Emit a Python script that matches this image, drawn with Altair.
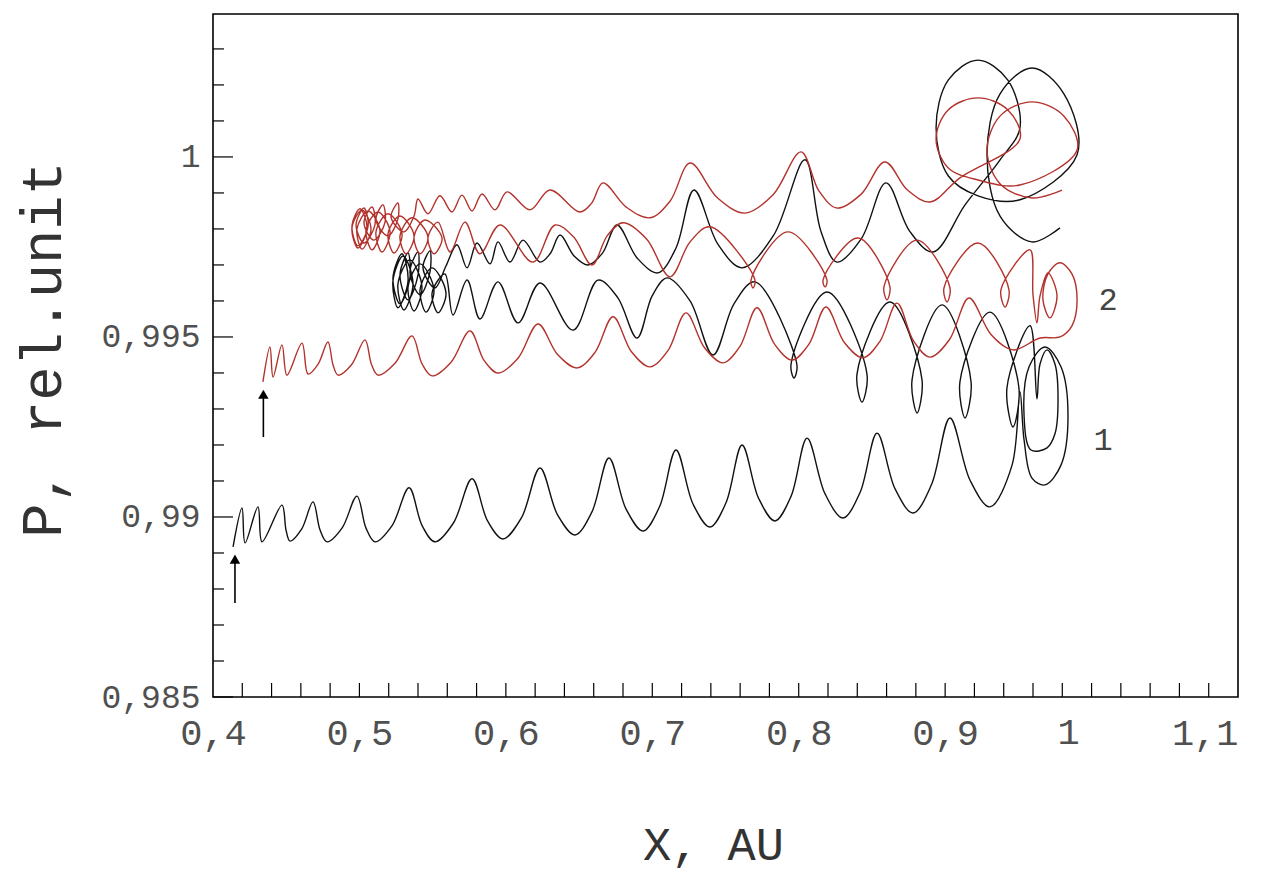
import altair as alt
import pandas as pd

# ---------------- curve 1 (black) ----------------
# outgoing lower band (from the arrow to the right)
b1_x = [0.4137, 0.4198, 0.4219, 0.4307, 0.4335, 0.4471, 0.4499, 0.4526, 0.4605, 0.4683,
        0.4731, 0.4779, 0.4881, 0.4983, 0.5045, 0.5106, 0.5223, 0.5339, 0.5428, 0.5516,
        0.5643, 0.5769, 0.5875, 0.5980, 0.6107, 0.6233, 0.6353, 0.6472, 0.6588, 0.6704,
        0.6821, 0.6937, 0.7050, 0.7162, 0.7278, 0.7394, 0.7504, 0.7613, 0.7726, 0.7838,
        0.7948, 0.8057, 0.8180, 0.8302, 0.8419, 0.8535, 0.8658, 0.8781, 0.8907, 0.9033,
        0.9170, 0.9306]
b1_p = [0.98917, 0.99025, 0.98928, 0.99028, 0.98931, 0.99033, 0.98963, 0.98933, 0.98966, 0.99042,
        0.98964, 0.98931, 0.98969, 0.99058, 0.98969, 0.98931, 0.98976, 0.99081, 0.98976, 0.98931,
        0.98984, 0.99106, 0.98989, 0.98939, 0.98998, 0.99136, 0.99006, 0.98950, 0.99014, 0.99164,
        0.99022, 0.98961, 0.99029, 0.99186, 0.99036, 0.98972, 0.99040, 0.99200, 0.99052, 0.98989,
        0.99058, 0.99219, 0.99064, 0.98997, 0.99068, 0.99233, 0.99078, 0.99011, 0.99090, 0.99275,
        0.99102, 0.99028]
# right-hand turning loops
bt_x = [0.9457, 0.9511, 0.9539, 0.9593, 0.9682, 0.9791, 0.9839, 0.9791, 0.9682, 0.9573,
        0.9539, 0.9586, 0.9696, 0.9750, 0.9771, 0.9750, 0.9696, 0.9648, 0.9627]
bt_p = [0.99144, 0.99347, 0.99214, 0.99108, 0.99089, 0.99144, 0.99281, 0.99417, 0.99472, 0.99417,
        0.99281, 0.99186, 0.99192, 0.99231, 0.99328, 0.99425, 0.99464, 0.99425, 0.99328]
# middle band travelling back to the left
b2_x = [0.9580, 0.9422, 0.9463, 0.9504, 0.9306, 0.9101, 0.9136, 0.9177, 0.8979, 0.8774,
        0.8808, 0.8842, 0.8623, 0.8398, 0.8432, 0.8466, 0.8193, 0.7947, 0.7968, 0.7988,
        0.7701, 0.7558, 0.7415, 0.7258, 0.7101, 0.6999, 0.6896, 0.6763, 0.6629, 0.6459,
        0.6233, 0.6083, 0.5946, 0.5823, 0.5735, 0.5639]
b2_p = [0.99531, 0.99358, 0.99250, 0.99358, 0.99569, 0.99375, 0.99275, 0.99375, 0.99589, 0.99381,
        0.99289, 0.99381, 0.99597, 0.99397, 0.99319, 0.99397, 0.99625, 0.99422, 0.99386, 0.99422,
        0.99653, 0.99592, 0.99450, 0.99600, 0.99664, 0.99614, 0.99497, 0.99610, 0.99658, 0.99519,
        0.99650, 0.99539, 0.99653, 0.99550, 0.99658, 0.99561]
# dense spiral at the left turning point
bs_x = [0.5584, 0.5496, 0.5537, 0.5591, 0.5496, 0.5414, 0.5455, 0.5509, 0.5414, 0.5332,
        0.5373, 0.5427, 0.5345, 0.5263, 0.5304, 0.5366, 0.5298, 0.5229, 0.5263, 0.5332,
        0.5291, 0.5229, 0.5277, 0.5345, 0.5332, 0.5277, 0.5332, 0.5400, 0.5400, 0.5345,
        0.5414, 0.5482, 0.5482, 0.5434, 0.5516, 0.5591]
bs_p = [0.99675, 0.99622, 0.99567, 0.99622, 0.99692, 0.99631, 0.99569, 0.99631, 0.99703, 0.99639,
        0.99572, 0.99639, 0.99714, 0.99647, 0.99575, 0.99647, 0.99725, 0.99656, 0.99581, 0.99656,
        0.99731, 0.99664, 0.99592, 0.99664, 0.99733, 0.99672, 0.99603, 0.99672, 0.99736, 0.99681,
        0.99617, 0.99681, 0.99739, 0.99692, 0.99636, 0.99697]
# upper band going right again
b3_x = [0.5666, 0.5735, 0.5803, 0.5892, 0.5946, 0.6028, 0.6117, 0.6233, 0.6302, 0.6370,
        0.6466, 0.6561, 0.6660, 0.6759, 0.6899, 0.7039, 0.7162, 0.7285, 0.7449, 0.7613,
        0.7828, 0.8043, 0.8152, 0.8261, 0.8429, 0.8596, 0.8757, 0.8917]
b3_p = [0.99756, 0.99692, 0.99761, 0.99703, 0.99764, 0.99708, 0.99769, 0.99708, 0.99731, 0.99783,
        0.99725, 0.99700, 0.99733, 0.99811, 0.99718, 0.99678, 0.99747, 0.99908, 0.99757, 0.99692,
        0.99782, 0.99992, 0.99793, 0.99708, 0.99774, 0.99928, 0.99794, 0.99736]
# big loops in the upper right corner
bl_x = [0.9136, 0.9375, 0.9511, 0.9427, 0.9224, 0.9022, 0.8938, 0.9022, 0.9224, 0.9511,
        0.9901, 0.9810, 0.9593, 0.9376, 0.9286, 0.9376, 0.9593, 0.9784]
bl_p = [0.99867, 0.99992, 1.00081, 1.00214, 1.00269, 1.00214, 1.00081, 0.99947, 0.99892, 0.99881,
        1.00006, 1.00176, 1.00247, 1.00176, 1.00006, 0.99835, 0.99764, 0.99803]

# ---------------- curve 2 (red) ----------------
r1_x = [0.4341, 0.4389, 0.4410, 0.4471, 0.4505, 0.4608, 0.4649, 0.4717, 0.4785, 0.4820,
        0.4854, 0.4946, 0.5038, 0.5083, 0.5127, 0.5243, 0.5359, 0.5428, 0.5496, 0.5626,
        0.5755, 0.5851, 0.5946, 0.6083, 0.6220, 0.6353, 0.6486, 0.6609, 0.6732, 0.6858,
        0.6984, 0.7107, 0.7230, 0.7357, 0.7483, 0.7599, 0.7715, 0.7835, 0.7954, 0.8070,
        0.8186, 0.8313, 0.8439, 0.8555, 0.8671, 0.8784, 0.8897, 0.9030, 0.9163, 0.9313,
        0.9463]
r1_p = [0.99375, 0.99472, 0.99389, 0.99478, 0.99394, 0.99483, 0.99397, 0.99424, 0.99486, 0.99422,
        0.99394, 0.99423, 0.99492, 0.99423, 0.99394, 0.99427, 0.99503, 0.99425, 0.99392, 0.99430,
        0.99517, 0.99435, 0.99400, 0.99441, 0.99536, 0.99451, 0.99414, 0.99457, 0.99556, 0.99459,
        0.99417, 0.99462, 0.99567, 0.99470, 0.99428, 0.99474, 0.99581, 0.99480, 0.99436, 0.99480,
        0.99583, 0.99484, 0.99442, 0.99488, 0.99594, 0.99489, 0.99444, 0.99493, 0.99608, 0.99507,
        0.99464]
rt_x = [0.9648, 0.9784, 0.9866, 0.9901, 0.9866, 0.9784, 0.9702, 0.9668, 0.9716, 0.9764,
        0.9702, 0.9648, 0.9627, 0.9600]
rt_p = [0.99497, 0.99500, 0.99531, 0.99603, 0.99675, 0.99706, 0.99675, 0.99603, 0.99553, 0.99614,
        0.99678, 0.99614, 0.99539, 0.99617]
r2_x = [0.9580, 0.9381, 0.9409, 0.9436, 0.9224, 0.8992, 0.9013, 0.9033, 0.8808, 0.8582,
        0.8603, 0.8623, 0.8405, 0.8166, 0.8180, 0.8193, 0.7927, 0.7674, 0.7688, 0.7701,
        0.7394, 0.7258, 0.7121, 0.6961, 0.6800, 0.6694, 0.6588, 0.6462, 0.6336, 0.6185,
        0.5960, 0.5823, 0.5721, 0.5619]
r2_p = [0.99742, 0.99631, 0.99583, 0.99631, 0.99761, 0.99636, 0.99597, 0.99636, 0.99769, 0.99639,
        0.99603, 0.99639, 0.99775, 0.99658, 0.99639, 0.99658, 0.99792, 0.99658, 0.99636, 0.99658,
        0.99806, 0.99764, 0.99667, 0.99772, 0.99817, 0.99782, 0.99700, 0.99778, 0.99811, 0.99708,
        0.99811, 0.99731, 0.99819, 0.99736]
rs_x = [0.5537, 0.5468, 0.5509, 0.5564, 0.5448, 0.5373, 0.5414, 0.5468, 0.5359, 0.5277,
        0.5318, 0.5373, 0.5277, 0.5195, 0.5236, 0.5291, 0.5195, 0.5113, 0.5154, 0.5209,
        0.5127, 0.5045, 0.5086, 0.5140, 0.5059, 0.4983, 0.5018, 0.5079, 0.5018, 0.4949,
        0.4990, 0.5052, 0.5004, 0.4949, 0.4990, 0.5059, 0.5031, 0.4977, 0.5031, 0.5106,
        0.5086, 0.5031, 0.5099, 0.5175, 0.5161, 0.5113, 0.5195, 0.5263, 0.5263, 0.5216,
        0.5304, 0.5373]
rs_p = [0.99819, 0.99775, 0.99731, 0.99775, 0.99825, 0.99778, 0.99731, 0.99778, 0.99831, 0.99781,
        0.99731, 0.99781, 0.99836, 0.99786, 0.99733, 0.99786, 0.99842, 0.99792, 0.99736, 0.99792,
        0.99847, 0.99797, 0.99742, 0.99797, 0.99850, 0.99800, 0.99744, 0.99800, 0.99853, 0.99803,
        0.99747, 0.99803, 0.99856, 0.99808, 0.99753, 0.99808, 0.99858, 0.99811, 0.99761, 0.99811,
        0.99861, 0.99817, 0.99769, 0.99819, 0.99867, 0.99825, 0.99781, 0.99828, 0.99872, 0.99833,
        0.99792, 0.99836]
r3_x = [0.5400, 0.5468, 0.5550, 0.5632, 0.5700, 0.5769, 0.5837, 0.5926, 0.6008, 0.6165,
        0.6301, 0.6506, 0.6585, 0.6663, 0.6824, 0.6984, 0.7121, 0.7258, 0.7446, 0.7633,
        0.7825, 0.8016, 0.8139, 0.8261, 0.8425, 0.8589, 0.8743, 0.8897]
r3_p = [0.99883, 0.99842, 0.99892, 0.99847, 0.99894, 0.99850, 0.99897, 0.99853, 0.99903, 0.99853,
        0.99908, 0.99847, 0.99871, 0.99928, 0.99860, 0.99831, 0.99877, 0.99983, 0.99886, 0.99844,
        0.99895, 1.00014, 0.99905, 0.99858, 0.99896, 0.99986, 0.99908, 0.99875]
rl_x = [0.9101, 0.9511, 0.9427, 0.9224, 0.9022, 0.8938, 0.9022, 0.9224, 0.9511, 0.9901,
        0.9810, 0.9593, 0.9376, 0.9286, 0.9376, 0.9593, 0.9798]
rl_p = [0.99942, 1.00050, 1.00131, 1.00164, 1.00131, 1.00050, 0.99969, 0.99936, 0.99922, 1.00019,
        1.00114, 1.00153, 1.00114, 1.00019, 0.99925, 0.99886, 0.99908]

# start arrows and curve numbers
arrow_x = [0.4150, 0.4344]
arrow_base = [0.98761, 0.99222]
arrow_head = [0.98883, 0.99341]
num_text = ["1", "2"]
num_x = [1.0078, 1.0112]
num_p = [0.99214, 0.99603]

# axis labels and ticks
x_labels = [0.4, 0.5, 0.6, 0.7, 0.8, 0.9, 1.0, 1.1]
x_one = [1.0]
x_one_text = ["1"]
x_ticks = [0.42, 0.44, 0.46, 0.48, 0.5, 0.52, 0.54, 0.56, 0.58, 0.6, 0.62, 0.64, 0.66, 0.68,
           0.7, 0.72, 0.74, 0.76, 0.78, 0.8, 0.82, 0.84, 0.86, 0.88, 0.9, 0.92, 0.94, 0.96,
           0.98, 1.0, 1.02, 1.04, 1.06, 1.08]
y_major = [0.985, 0.99, 0.995, 1.0]
y_minor = [0.986, 0.987, 0.988, 0.989, 0.991, 0.992, 0.993, 0.994, 0.996, 0.997, 0.998,
           0.999, 1.001, 1.002, 1.003]

black_x = b1_x + bt_x + b2_x + bs_x + b3_x + bl_x
black_p = b1_p + bt_p + b2_p + bs_p + b3_p + bl_p
red_x = r1_x + rt_x + r2_x + rs_x + r3_x + rl_x
red_p = r1_p + rt_p + r2_p + rs_p + r3_p + rl_p

curves = pd.DataFrame({
    "x": black_x + red_x,
    "p": black_p + red_p,
    "curve": ["1"] * len(black_x) + ["2"] * len(red_x),
    "order": list(range(len(black_x))) + list(range(len(red_x))),
})
arrows = pd.DataFrame({"x": arrow_x, "p": arrow_base, "p2": arrow_head})
nums = pd.DataFrame({"x": num_x, "p": num_p, "t": num_text})
one = pd.DataFrame({"x": x_one, "t": x_one_text})
xt = pd.DataFrame({"x": x_ticks})
ymaj = pd.DataFrame({"p": y_major})
ymin = pd.DataFrame({"p": y_minor})

W, H = 1025, 683
FONT = "Liberation Mono"
LABEL_GRAY = "#505050"
xs = alt.Scale(domain=[0.4, 1.1], nice=False, zero=False)
ys = alt.Scale(domain=[0.985, 1.00397], nice=False, zero=False)

X_AX = alt.Axis(
    values=x_labels, ticks=False, domain=False, grid=False, labelFlush=False,
    labelExpr="datum.value == 1 ? '' : replace(format(datum.value, '.1~f'), '.', ',')",
    labelAlign={"condition": {"test": "datum.value > 1.05", "value": "right"}, "value": "center"},
    labelBaseline="top",
    labelFont=FONT, labelFontSize=37, labelColor=LABEL_GRAY, labelPadding=18,
    title="X, AU", titleFont=FONT, titleFontSize=47, titleFontWeight="normal",
    titleColor="#333", titleY=148, titleX=500, titleBaseline="middle")
Y_AX = alt.Axis(
    values=y_major, ticks=False, domain=False, grid=False, labelFlush=False,
    labelExpr="replace(format(datum.value, '.3~f'), '.', ',')",
    labelFont=FONT, labelFontSize=33, labelColor=LABEL_GRAY, labelPadding=13,
    labelBaseline="middle",
    title="P, rel.unit", titleFont=FONT, titleFontSize=57, titleFontWeight="normal",
    titleColor="#333", titleX=-170, titleY=335, titleAngle=-90,
    titleBaseline="middle", titleAlign="center")


def X(field):
    return alt.X(field, type="quantitative", scale=xs, axis=X_AX)


def Y(field):
    return alt.Y(field, type="quantitative", scale=ys, axis=Y_AX)


lines = alt.Chart(curves).mark_line(interpolate="catmull-rom", strokeWidth=1.4,
                                    strokeJoin="round").encode(
    x=X("x"), y=Y("p"),
    color=alt.Color("curve:N", scale=alt.Scale(domain=["1", "2"], range=["#111111", "#b3322c"]),
                    legend=None),
    detail="curve:N",
    order="order:Q",
)
shafts = alt.Chart(arrows).mark_rule(color="#000", strokeWidth=1.6).encode(
    x=X("x"), y=Y("p"), y2="p2:Q")
heads = alt.Chart(arrows).mark_point(shape="triangle-up", filled=True, color="#000",
                                     size=110, opacity=1).encode(x=X("x"), y=Y("p2"))
labels = alt.Chart(nums).mark_text(font=FONT, fontSize=32, color="#444").encode(
    x=X("x"), y=Y("p"), text="t:N")
one_label = alt.Chart(one).mark_text(font=FONT, fontSize=37, color=LABEL_GRAY,
                                     baseline="top", align="center", dx=-23).encode(
    x=X("x"), y=alt.value(H + 18), text="t:N")
xtick = alt.Chart(xt).mark_rule(color="#000", strokeWidth=1.2).encode(
    x=X("x"), y=alt.value(H), y2=alt.value(H - 14))
ymajor = alt.Chart(ymaj).mark_rule(color="#000", strokeWidth=1.2).encode(
    y=Y("p"), x=alt.value(0), x2=alt.value(20))
yminor = alt.Chart(ymin).mark_rule(color="#000", strokeWidth=1.2).encode(
    y=Y("p"), x=alt.value(0), x2=alt.value(11))

chart = alt.layer(lines, shafts, heads, labels, one_label, xtick, ymajor, yminor).properties(
    width=W, height=H,
    autosize=alt.AutoSizeParams(type="none"),
    padding={"left": 205, "top": 6, "right": 18, "bottom": 178},
).configure(background="white").configure_view(stroke="#000", strokeWidth=1.6)

chart.save("out.html", embed_options={"renderer": "svg", "actions": False})
